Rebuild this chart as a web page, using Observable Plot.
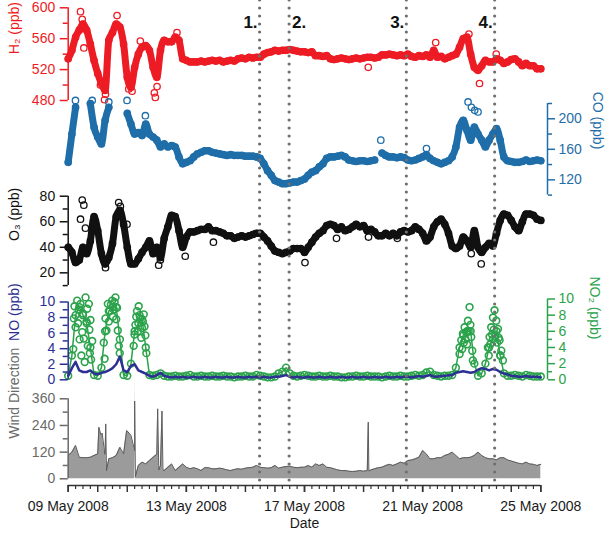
<!DOCTYPE html>
<html><head><meta charset="utf-8">
<script src="https://cdn.jsdelivr.net/npm/d3@7"></script>
<script src="https://cdn.jsdelivr.net/npm/@observablehq/plot@0.6"></script>
<style>
body{margin:0;background:#fff}
#chart{position:relative;width:605px;height:534px;overflow:hidden;background:#fff}
#chart svg{position:absolute;left:0;top:0}
</style></head><body><div id="chart"></div>
<script>
// ---- data: 3-hourly samples starting 09 May 2008 00:00 UTC ----
const startDate = "2008-05-09";
const endDate = "2008-05-25";
const stepHours = 3;

const h2 = [534,545,562,571,579,571,553,532,515,502,
 493,558,568,579,575,553,510,497,523,540,
 549,551,545,523,510,545,558,556,556,562,
 558,534,532,530,530,530,531,530,531,532,
 531,532,530,531,532,531,534,535,534,536,
 535,536,536,540,542,543,545,544,545,545,
 546,545,544,543,543,542,543,538,538,537,
 538,534,533,534,535,534,533,534,535,534,
 535,536,536,535,536,539,539,540,539,538,
 539,538,540,537,536,538,537,539,536,545,
 536,537,534,536,538,540,549,560,562,540,
 523,519,525,532,530,530,534,532,528,530,
 533,534,530,525,528,525,525,521,521];
const h2Extra = [[10.0,595],[11.4,585],[12.7,548],[26.2,500],[29.5,481],[30.3,488],[39.7,590],[49.2,495],[51.9,492],[58.6,557],[70.0,490],[70.8,484],[72.2,498],[88.4,568],[243.8,523],[298.6,555],[325.6,566],[334.2,502],[347.8,540]];

const co = [143,180,215,null,null,null,220,189,176,167,
 198,215,null,null,null,null,207,193,180,182,
 178,193,180,176,172,163,167,163,165,163,
 150,141,143,145,150,154,156,158,158,156,
 155,154,153,152,153,152,152,152,151,151,
 151,150,148,141,132,126,119,117,115,115,
 116,117,117,119,121,126,130,132,137,141,
 148,150,150,151,152,150,146,145,144,145,
 145,144,145,146,null,155,152,150,150,149,
 150,149,146,145,146,148,150,153,148,145,
 143,141,143,145,150,163,189,198,185,172,
 189,180,172,163,172,180,187,172,150,145,
 144,143,143,144,146,144,145,146,145];
const coExtra = [[5.9,224],[19.5,224],[33,222],[47.8,224],[62.7,204],[254,172],[291.1,161],[324.9,222],[327.6,215],[330.3,211],[333,209]];

const o3 = [40,36,28,30,40,35,45,64,53,35,
 27,32,43,64,69,58,40,27,27,31,
 36,40,45,35,40,32,47,56,65,64,
 53,40,48,52,52,53,54,54,56,53,
 53,52,51,49,49,47,48,49,48,49,
 50,51,51,48,45,41,37,36,35,36,
 37,39,39,39,36,40,44,48,51,53,
 57,58,57,54,56,53,54,56,58,56,
 57,53,54,52,49,49,51,49,51,49,
 52,53,52,53,56,54,51,45,48,56,
 60,62,58,51,41,39,41,48,45,40,
 53,40,36,40,43,41,51,61,66,65,
 61,56,53,60,66,66,65,62,61];
const o3Extra = [[10,62],[11.4,77],[12.7,73],[14,55],[30.3,24],[41,75],[42.4,72],[47.8,58],[73.5,26],[74.9,30],[95.1,33],[118,44],[192.4,28],[218,47],[244,48],[267.4,47],[327.5,35],[335.6,27]];

const no = [0.5,1.5,2.3,1.2,1.0,1.0,1.2,0.8,0.7,0.9,
 1.0,1.2,1.5,2.0,3.0,1.2,1.0,1.8,2.0,1.2,
 1.0,0.8,0.5,0.4,0.6,0.9,0.5,0.4,0.3,0.4,
 0.3,0.4,0.3,0.3,0.4,0.3,0.3,0.4,0.3,0.3,
 0.4,0.3,0.3,0.4,0.3,0.3,0.4,0.3,0.3,0.4,
 0.3,0.4,0.3,0.4,0.3,0.3,0.4,0.4,0.5,0.6,
 0.4,0.3,0.4,0.3,0.3,0.4,0.3,0.3,0.4,0.3,
 0.3,0.4,0.3,0.3,0.4,0.3,0.3,0.4,0.3,0.3,
 0.4,0.3,0.3,0.4,0.3,0.3,0.4,0.3,0.3,0.4,
 0.3,0.4,0.4,0.3,0.4,0.5,0.4,0.5,0.6,0.4,
 0.4,0.5,0.5,0.6,0.6,0.9,1.0,1.1,1.0,0.9,
 1.0,1.3,1.5,1.4,1.2,1.4,1.3,1.0,0.8,0.7,
 0.5,0.5,0.4,0.4,0.5,0.4,0.4,0.4,0.3];

const no2 = [0.5,3,8,9,8,7,4,0.6,0.5,1.5,
 6,8.5,9,9,5,0.6,0.5,2,6,7,
 7.5,4,0.6,0.5,0.6,0.8,0.5,0.4,0.4,0.5,
 0.4,0.4,0.5,0.6,0.4,0.4,0.5,0.4,0.4,0.5,
 0.4,0.4,0.5,0.4,0.4,0.3,0.4,0.4,0.5,0.4,
 0.4,0.6,0.5,0.4,0.3,0.3,0.4,0.8,1.0,1.5,
 0.8,0.5,0.4,0.5,0.6,0.5,0.4,0.4,0.5,0.4,
 0.4,0.5,0.4,0.4,0.3,0.3,0.4,0.4,0.5,0.4,
 0.4,0.5,0.4,0.4,0.4,0.3,0.4,0.5,0.4,0.4,
 0.5,0.4,0.4,0.5,0.6,0.5,0.6,0.9,1.0,0.6,
 0.5,0.4,0.5,0.5,0.6,1.5,4,5.5,6,6,
 2,0.5,0.8,2,4,5,6,3,0.8,0.5,
 0.5,0.6,0.5,0.4,0.6,0.5,0.4,0.4,0.4];
const no2Extra = [[4.1,3.8],[4.6,7.6],[5.1,9.1],[6.0,6.5],[7.3,9.8],[8.0,7.0],[8.6,8.7],[9.3,5.0],[10,9.4],[10.7,3.0],[11.4,5.9],[12.0,8.2],[12.7,5.1],[13.4,2.2],[14.1,10.2],[14.9,7.2],[15.4,8.8],[15.9,4.2],[16.8,9.4],[17.2,6.2],[17.6,3.3],[18.1,7.4],[18.6,2.5],[19.5,4.8],
 [28.9,4.6],[29.6,2.6],[30.3,7.6],[31.1,6.1],[32.2,9.4],[33.0,7.2],[33.8,8.5],[34.7,9.3],[35.7,9.8],[36.3,7.8],[37.0,8.7],[37.7,9.6],[38.4,10.2],[39.0,7.5],[39.7,8.9],[40.3,6.1],[41.1,4.2],[41.9,3.3],
 [53.2,4.2],[53.9,5.6],[54.6,6.8],[55.3,7.8],[55.9,8.5],[56.6,6.0],[57.3,9.1],[58.0,8.0],[58.6,7.6],[59.3,5.2],[60,6.4],[60.7,7.2],[61.4,8.1],[62.0,6.6],[62.7,5.5],[63.5,3.3],
 [318,3.2],[319.4,4.9],[320.1,3.8],[320.7,5.7],[321.4,4.6],[322.1,6.5],[322.8,5.0],[323.4,5.9],[324.1,4.4],[324.8,7.3],[325.4,6.0],[326.1,9.0],[326.8,6.8],[327.5,5.3],[328.3,3.6],[328.8,2.4],
 [341,4.0],[341.7,3.0],[342.4,5.3],[343.0,4.4],[343.7,6.5],[344.4,5.6],[345.1,7.7],[345.8,6.2],[346.4,8.6],[347.1,5.4],[347.8,7.3],[348.5,4.6],[349.2,6.3],[349.8,5.2],[350.5,4.9],[351.2,3.0],[351.9,3.6],[353.2,2.4]];

const wind = [105,120,150,97,95,95,97,105,112,200,
 112,90,95,105,142,112,215,195,127,60,
 75,67,82,97,110,60,
 37,52,67,37,52,67,52,45,50,45,37,50,50,45,45,48,45,40,37,42,45,43,48,50,52,60,52,50,48,50,60,48,52,55,57,52,50,
 52,52,60,52,67,60,67,52,50,45,40,37,37,34,33,34,37,34,37,40,45,50,52,60,65,60,67,75,70,82,85,90,97,127,112,90,90,95,95,105,110,120,105,90,95,95,97,105,120,105,95,90,90,85,95,95,85,80,75,70,67,75,67,65,60,65];
const windSpikes = [[24.9,232],[26.5,200],[27.6,205],[29.8,110],[30.5,247],[31.1,37],[47.5,217],[54.0,350],[54.6,10],[72.7,315],[73.6,40],[76.2,305],[77.0,40],[243.8,255],[244.3,35]];

const eventLabels = ["1.", "2.", "3.", "4."];
const eventHours = [155.5, 179.5, 274.75, 346.5];
const eventLabelSide = ["end", "start", "end", "end"];

const xLabelDates = ["2008-05-09","2008-05-13","2008-05-17","2008-05-21","2008-05-25"];
const h2Major = [480,520,560,600], h2Minor = [500,540,580];
const coMajor = [120,160,200], coMinor = [100,140,180,220];
const o3Major = [20,40,60,80], o3Minor = [10,30,50,70];
const noMajor = [0,2,4,6,8,10], noMinor = [1,3,5,7,9];
const windMajor = [0,120,240,360], windMinor = [60,180,300];

// ---- helpers ----
const T0 = new Date(startDate + "T00:00:00Z");
const T1 = new Date(endDate + "T00:00:00Z");
const HOUR = 3600e3;
const series = vals => vals.map((v, i) => ({t: new Date(+T0 + i * stepHours * HOUR), v}));
const pairs = arr => arr.map(([h, v]) => ({t: new Date(+T0 + h * HOUR), v}));

const h2Data = series(h2), h2Out = pairs(h2Extra);
const coData = series(co), coOut = pairs(coExtra);
const o3Data = series(o3), o3Out = pairs(o3Extra);
const noData = series(no);
const no2Data = series(no2), no2Out = pairs(no2Extra);
const windData = series(wind).concat(pairs(windSpikes)).sort((a, b) => a.t - b.t);
const events = eventLabels.map((label, i) => ({label, side: eventLabelSide[i], t: new Date(+T0 + eventHours[i] * HOUR)}));

const W = 605, H = 534;
const XL = 67.7, XR = 540.3;
const FONT = '"Liberation Sans", Arial, Helvetica, sans-serif';
const RED = "#ed1c24", COBLUE = "#1f6ea9", NOBLUE = "#2c3093", GREEN = "#2ba34b", BLACK = "#111", GRAY = "#6a6a6a";

function panel({top, bottom, color, y, marks, marginRight = W - 547}) {
  return Plot.plot({
    width: W, height: H,
    marginLeft: XL, marginRight, marginTop: top, marginBottom: H - bottom,
    x: {type: "utc", domain: [T0, T1], range: [XL, XR], axis: null},
    y,
    style: {background: "transparent", color, fontFamily: FONT, fontSize: "14px", overflow: "visible"},
    marks
  });
}
const leftAxis = (major, minor, label) => [
  Plot.ruleX([T0], {strokeWidth: 1.5}),
  Plot.axisY(major, {anchor: "left", tickSize: 8, tickPadding: 5, label: null, strokeWidth: 1.5}),
  Plot.axisY(minor, {anchor: "left", tickSize: 5, fill: "none", label: null, strokeWidth: 1.5}),
  Plot.text([label], {frameAnchor: "left", dx: -54, rotate: -90})
];
const rightAxis = (major, minor, label, dxLabel) => [
  Plot.ruleX([T1], {strokeWidth: 1.5, dx: 547 - XR}),
  Plot.axisY(major, {anchor: "right", tickSize: 7, tickPadding: 4, label: null, strokeWidth: 1.5}),
  Plot.axisY(minor, {anchor: "right", tickSize: 4, fill: "none", label: null, strokeWidth: 1.5}),
  Plot.text([label], {frameAnchor: "right", dx: dxLabel, rotate: 90})
];
const band = (data, extra, color, lw, r) => [
  Plot.line(data, {x: "t", y: "v", stroke: color, strokeWidth: lw, curve: "monotone-x"}),
  Plot.dot(data, {x: "t", y: "v", stroke: color, r, strokeWidth: 1.3}),
  ...(extra ? [Plot.dot(extra, {x: "t", y: "v", stroke: color, r, strokeWidth: 1.3})] : [])
];

const plots = [
  panel({top: 7.3, bottom: 100, color: RED, y: {domain: [480, 600]},
    marks: [...band(h2Data, h2Out, RED, 7, 3.2), ...leftAxis(h2Major, h2Minor, "H₂ (ppb)")]}),
  panel({top: 103, bottom: 194.6, color: COBLUE, y: {domain: [100, 220]},
    marks: [...band(coData, coOut, COBLUE, 7, 3.2), ...rightAxis(coMajor, coMinor, "CO (ppb)", 50)]}),
  panel({top: 195.7, bottom: 285.1, color: BLACK, y: {domain: [10, 80]},
    marks: [...band(o3Data, o3Out, BLACK, 7, 3.2), ...leftAxis(o3Major, o3Minor, "O₃ (ppb)")]}),
  panel({top: 298.5, bottom: 379.3, color: GREEN, y: {domain: [0, 10]},
    marks: [
      Plot.line(no2Data, {x: "t", y: "v", stroke: GREEN, strokeWidth: 1.5}),
      Plot.dot(no2Data, {x: "t", y: "v", stroke: GREEN, r: 3.4, strokeWidth: 1.6}),
      Plot.dot(no2Out, {x: "t", y: "v", stroke: GREEN, r: 3.4, strokeWidth: 1.6}),
      ...rightAxis(noMajor, noMinor, "NO₂ (ppb)", 47)]}),
  panel({top: 301.5, bottom: 379.3, color: NOBLUE, y: {domain: [0, 10]},
    marks: [
      Plot.line(noData, {x: "t", y: "v", stroke: NOBLUE, strokeWidth: 2.5}),
      ...leftAxis(noMajor, noMinor, "NO (ppb)")]}),
  panel({top: 398.3, bottom: 478.3, color: GRAY, y: {domain: [0, 360]},
    marks: [
      Plot.areaY(windData, {x: "t", y: "v", fill: "#9b9b9b"}),
      Plot.lineY(windData, {x: "t", y: "v", stroke: "#5c5c5c", strokeWidth: 1}),
      ...leftAxis(windMajor, windMinor, "Wind Direction")]}),
];

// overlay: time axis + event lines
const dayTicks = d3.utcDay.range(T0, new Date(+T1 + 1));
const sixHourTicks = d3.utcHour.every(6).range(T0, T1).filter(d => d.getUTCHours() !== 0);
const labelTicks = xLabelDates.map(s => new Date(s + "T00:00:00Z"));
const eventsLeft = events.filter(e => e.side === "end");
const eventsRight = events.filter(e => e.side === "start");
plots.push(Plot.plot({
  width: W, height: H,
  marginLeft: XL, marginRight: W - XR, marginTop: 0, marginBottom: H - 485,
  x: {type: "utc", domain: [T0, T1], range: [XL, XR]},
  y: {domain: [0, 1], axis: null},
  style: {background: "transparent", color: "#333", fontFamily: FONT, fontSize: "14px", overflow: "visible"},
  marks: [
    Plot.ruleX(events, {x: "t", stroke: "#707070", strokeWidth: 3.2, strokeDasharray: "0 8", strokeLinecap: "round"}),
    Plot.text(eventsLeft, {x: "t", text: "label", frameAnchor: "top", dy: 15, dx: -2, textAnchor: "end", fontWeight: "bold", fontSize: 17, fill: "#111"}),
    Plot.text(eventsRight, {x: "t", text: "label", frameAnchor: "top", dy: 15, dx: 3, textAnchor: "start", fontWeight: "bold", fontSize: 17, fill: "#111"}),
    Plot.ruleY([0], {strokeWidth: 1.5}),
    Plot.axisX(dayTicks, {anchor: "bottom", tickSize: 7, fill: "none", strokeWidth: 1.5}),
    Plot.axisX(sixHourTicks, {anchor: "bottom", tickSize: 4, fill: "none", strokeWidth: 1.2}),
    Plot.axisX(labelTicks, {anchor: "bottom", tickSize: 7, tickPadding: 9, tickFormat: d3.utcFormat("%d %b %Y"), label: null, strokeWidth: 1.5, fill: "#1a1a1a"}),
    Plot.text(["Date"], {frameAnchor: "bottom", dy: 42, fill: "#1a1a1a"})
  ]
}));

const chart = document.getElementById("chart");
for (const p of plots) chart.appendChild(p);
</script></body></html>
